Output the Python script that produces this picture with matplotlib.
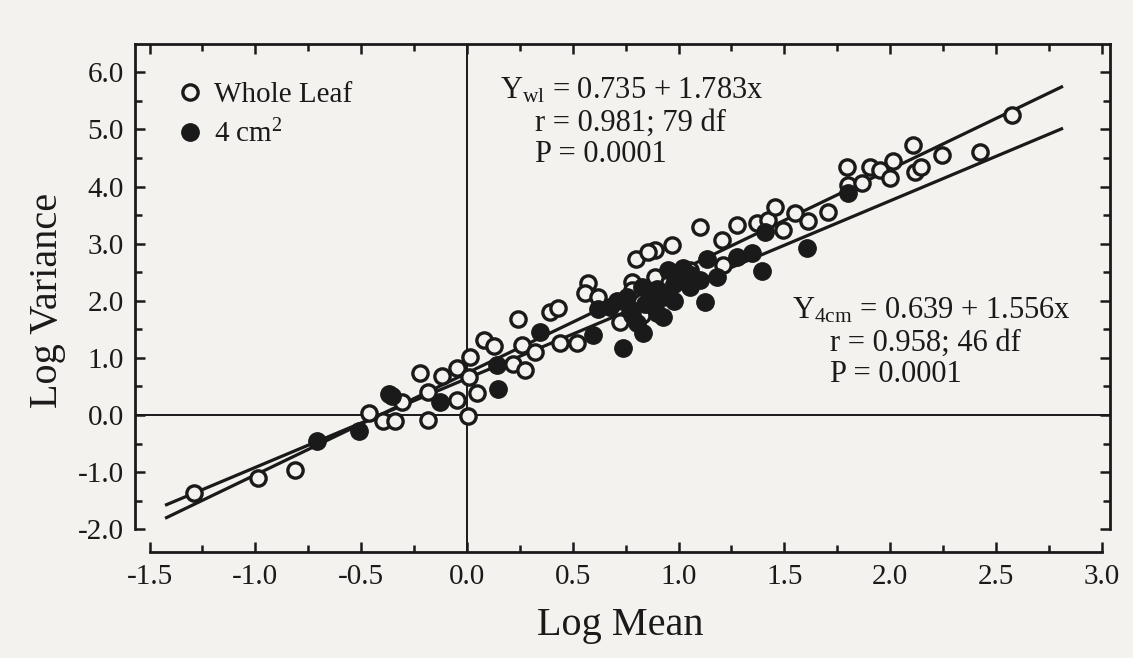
import matplotlib
matplotlib.use("Agg")
import matplotlib.pyplot as plt
from matplotlib.lines import Line2D
from matplotlib.ticker import MultipleLocator, FormatStrFormatter
import numpy as np

plt.rcParams['font.family'] = ['Liberation Serif', 'DejaVu Serif']
plt.rcParams['mathtext.fontset'] = 'custom'
plt.rcParams['mathtext.rm'] = 'Liberation Serif'
plt.rcParams['mathtext.it'] = 'Liberation Serif:italic'

# ---- data (log mean, log variance) ----
whole_x = [-1.289, -0.989, -0.813, -0.462, -0.397, -0.340, -0.309, -0.222, -0.183, -0.183,
           -0.120, -0.045, -0.046, 0.015, 0.008, 0.004, 0.046, 0.080, 0.130, 0.258,
           0.321, 0.219, 0.274, 0.243, 0.392, 0.432, 0.440, 0.522, 0.573, 0.558,
           0.620, 0.723, 0.778, 0.778, 0.800, 0.826, 0.888, 0.888, 0.967, 1.101,
           1.204, 1.212, 1.275, 1.370, 1.424, 1.456, 1.495, 1.550, 1.613, 1.708,
           1.794, 1.802, 1.865, 1.905, 1.952, 1.999, 2.015, 2.109, 2.117, 2.148,
           2.243, 2.424, 2.574, 0.857, 1.054]
whole_y = [-1.37, -1.11, -0.96, 0.03, -0.10, -0.10, 0.23, 0.74, 0.41, -0.09,
           0.68, 0.82, 0.26, 1.02, 0.67, -0.01, 0.38, 1.32, 1.21, 1.23,
           1.11, 0.89, 0.79, 1.69, 1.81, 1.87, 1.26, 1.26, 2.31, 2.13,
           2.07, 1.63, 2.33, 2.19, 2.74, 1.75, 2.89, 2.41, 2.98, 3.30,
           3.06, 2.63, 3.33, 3.36, 3.42, 3.65, 3.24, 3.53, 3.40, 3.55,
           4.35, 4.03, 4.07, 4.35, 4.29, 4.15, 4.44, 4.73, 4.26, 4.35,
           4.55, 4.61, 5.25, 2.86, 2.54]

cm4_x = [-0.710, -0.509, -0.356, -0.370, -0.128, 0.145, 0.140, 0.345, 0.597, 0.739,
         0.676, 0.826, 0.896, 0.928, 0.834, 0.951, 1.007, 1.133, 1.125, 1.101,
         1.180, 1.275, 1.345, 1.393, 1.605, 1.408, 0.865, 0.755, 0.802, 0.928,
         1.022, 1.054, 1.802, 0.620, 0.710, 1.060, 0.980, 0.860, 0.770, 0.840,
         0.900, 0.980, 0.780, 1.030]
cm4_y = [-0.46, -0.28, 0.33, 0.36, 0.23, 0.45, 0.87, 1.46, 1.40, 1.17,
         1.90, 2.25, 1.78, 1.72, 1.43, 2.54, 2.36, 2.74, 1.98, 2.36,
         2.42, 2.77, 2.83, 2.52, 2.92, 3.21, 2.07, 2.07, 1.61, 2.07,
         2.57, 2.25, 3.88, 1.85, 2.00, 2.45, 2.30, 1.95, 1.85, 1.95,
         2.20, 2.00, 1.75, 2.40]

# regression fits
wl_a, wl_b = 0.735, 1.783
c4_a, c4_b = 0.639, 1.556
fit_x = np.array([-1.42, 2.81])

x_ticks = [-1.5, -1.0, -0.5, 0.0, 0.5, 1.0, 1.5, 2.0, 2.5, 3.0]
y_ticks = [-2.0, -1.0, 0.0, 1.0, 2.0, 3.0, 4.0, 5.0, 6.0]

ink = '#1a1a1a'
bg = '#f4f2ef'

fig = plt.figure(figsize=(11.33, 6.58), dpi=100, facecolor=bg)
ax = fig.add_axes([135/1133, 106/658, 975/1133, 508/658], facecolor=bg)
ax.set_xlim(-1.569, 3.039)
ax.set_ylim(-2.399, 6.497)

# reference lines
ax.axhline(0, color=ink, lw=1.4, zorder=1)
ax.axvline(0, color=ink, lw=1.4, zorder=1)

# regression lines
ax.plot(fit_x, wl_a + wl_b * fit_x, color=ink, lw=2.3, zorder=2)
ax.plot(fit_x, c4_a + c4_b * fit_x, color=ink, lw=2.3, zorder=2)

ax.plot(whole_x, whole_y, 'o', ms=11, mfc=bg, mec=ink, mew=2.4, zorder=3, label='Whole Leaf')
ax.plot(cm4_x, cm4_y, 'o', ms=12.5, mfc=ink, mec=ink, mew=1.0, zorder=4, label=r'4 cm$^{2}$')

# spines
for s in ['left', 'right']:
    ax.spines[s].set_bounds(-2.0, 6.497)
ax.spines['bottom'].set_bounds(-1.5, 3.0)
for s in ax.spines.values():
    s.set_color(ink)
    s.set_linewidth(2.0)

ax.xaxis.set_major_locator(MultipleLocator(0.5))
ax.xaxis.set_minor_locator(MultipleLocator(0.25))
ax.yaxis.set_major_locator(MultipleLocator(1.0))
ax.yaxis.set_minor_locator(MultipleLocator(0.5))
ax.set_xticks(x_ticks)
ax.set_yticks(y_ticks)
ax.xaxis.set_major_formatter(FormatStrFormatter('%.1f'))
ax.yaxis.set_major_formatter(FormatStrFormatter('%.1f'))
ax.tick_params(axis='both', which='both', direction='in', color=ink, width=1.8,
               top=True, right=True, labeltop=False, labelright=False)
ax.tick_params(axis='both', which='major', length=7, labelsize=21, labelcolor=ink)
ax.tick_params(axis='both', which='minor', length=5)
ax.tick_params(axis='x', which='major', pad=9)
ax.tick_params(axis='y', which='major', pad=8)

ax.set_xlabel('Log Mean', fontsize=29, color=ink, va='center')
ax.xaxis.set_label_coords((620-135)/975, (552-625)/508)
ax.set_ylabel('Log Variance', fontsize=29, color=ink, va='center')
ax.yaxis.set_label_coords((48-135)/975, (552-300)/508)

# legend
handles = [Line2D([], [], marker='o', ls='', ms=11, mfc=bg, mec=ink, mew=2.4),
           Line2D([], [], marker='o', ls='', ms=12.5, mfc=ink, mec=ink)]
leg = ax.legend(handles, ['Whole Leaf', r'4 cm$^{2}$'], loc='upper left',
                bbox_to_anchor=((178-135)/975, (552-82)/508), frameon=False,
                fontsize=21, handlelength=0.8, handletextpad=0.45, labelspacing=0.38,
                borderpad=0, borderaxespad=0)
for t in leg.get_texts():
    t.set_color(ink)

# equations
eq_kw = dict(fontsize=22, color=ink, va='center', ha='left', transform=ax.transAxes)
def fx(px):
    return (px - 135) / 975
def fy(py):
    return (552 - py) / 508

ax.text(fx(500), fy(91), r'Y$_{\mathrm{wl}}$ = 0.735 + 1.783x', **eq_kw)
ax.text(fx(535), fy(123), 'r = 0.981; 79 df', **eq_kw)
ax.text(fx(535), fy(154), 'P = 0.0001', **eq_kw)

ax.text(fx(792), fy(311), r'Y$_{\mathrm{4cm}}$ = 0.639 + 1.556x', **eq_kw)
ax.text(fx(830), fy(343), 'r = 0.958; 46 df', **eq_kw)
ax.text(fx(830), fy(374), 'P = 0.0001', **eq_kw)

fig.savefig('out.png', dpi=100, facecolor=bg)
